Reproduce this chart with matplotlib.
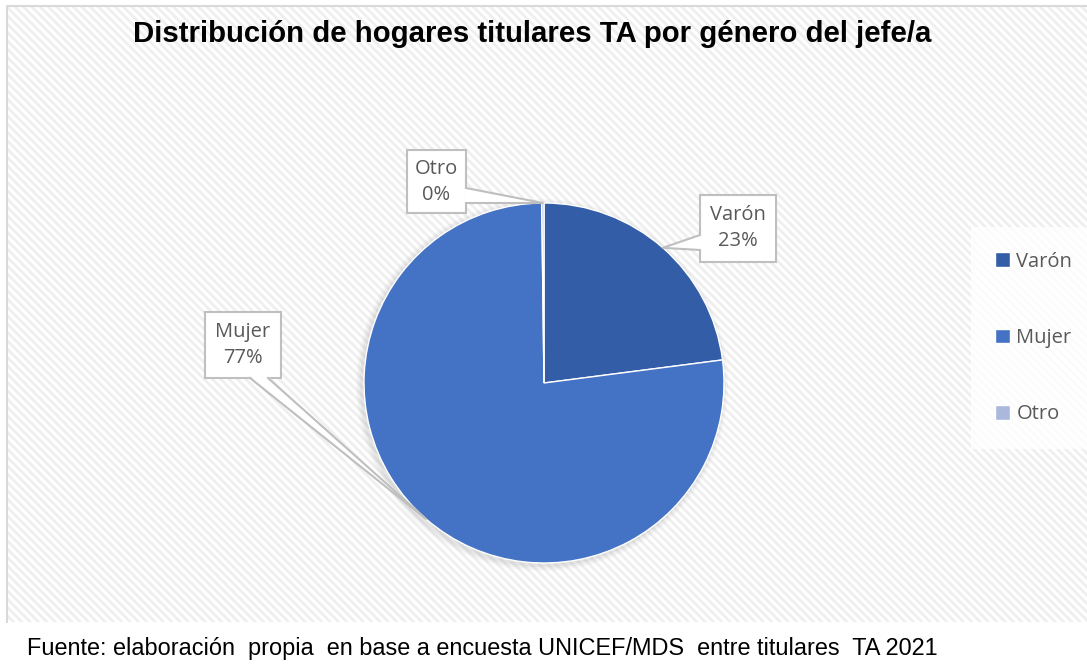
import numpy as np
import matplotlib.pyplot as plt
from matplotlib.patches import Rectangle, Polygon, Circle

plt.rcParams['hatch.linewidth'] = 2.0

# data
categorias = ["Varón", "Mujer", "Otro"]
valores = [23.0, 77.0, 0.2]
colores = ["#335DA6", "#4472C4", "#A9B8DC"]

titulo = "Distribución de hogares titulares TA por género del jefe/a"
fuente = "Fuente: elaboración  propia  en base a encuesta UNICEF/MDS  entre titulares  TA 2021"

W, H = 1087, 664
fig = plt.figure(figsize=(W / 100, H / 100), dpi=100)
ax = fig.add_axes([0, 0, 1, 1])

# chart area with striped background
bg = Rectangle((7, 42), W, H - 6 - 42, facecolor="white", edgecolor="#EFEFEF",
               hatch="\\\\\\\\", linewidth=0, zorder=0)
ax.add_patch(bg)
ax.plot([7, 7, W], [42, H - 6, H - 6], color="#D9D9D9", lw=1.5, zorder=1)

cx, cy, R = 544, H - 383, 180

# soft shadow
for k, a in zip([6, 4, 2], [0.05, 0.07, 0.09]):
    ax.add_patch(Circle((cx - 2, cy - 2), R + k, color="#808080", alpha=a, lw=0, zorder=1))

wedges, _ = ax.pie(valores, colors=colores, startangle=90, counterclock=False,
                   center=(cx, cy), radius=R, frame=True,
                   wedgeprops=dict(edgecolor="white", linewidth=1))
for w in wedges:
    w.set_zorder(2)

ax.set_xlim(0, W)
ax.set_ylim(0, H)
ax.axis("off")

total = sum(valores)
# callout boxes (x0, y0 top-left in px, width, height) and base of leader
cajas = {
    "Varón": ((700, 195, 76, 67), "left"),
    "Mujer": ((205, 312, 76, 66), "bottom"),
    "Otro": ((407, 150, 59, 63), "right"),
}
gris = "#BFBFBF"
fuente_lbl = "Open Sans"
for w, cat, v in zip(wedges, categorias, valores):
    ang = np.deg2rad((w.theta1 + w.theta2) / 2)
    tip = (cx + R * np.cos(ang), cy + R * np.sin(ang))
    (bx, by, bw, bh), lado = cajas[cat]
    y0 = H - by - bh
    ax.add_patch(Rectangle((bx, y0), bw, bh, facecolor="white", edgecolor=gris,
                           lw=1.5, zorder=4))
    if lado == "left":
        b1, b2 = (bx, y0 + 12), (bx, y0 + 27)
        ins = (1.5, 0)
    elif lado == "right":
        b1, b2 = (bx + bw, y0 + 10), (bx + bw, y0 + 25)
        ins = (-1.5, 0)
    else:
        b1, b2 = (bx + 45, y0), (bx + 63, y0)
        ins = (0, 1.5)
    poly = Polygon([(b1[0] + ins[0], b1[1] + ins[1]), tip, (b2[0] + ins[0], b2[1] + ins[1])],
                   closed=True, facecolor="white", edgecolor="none", zorder=5)
    ax.add_patch(poly)
    ax.plot([b1[0], tip[0], b2[0]], [b1[1], tip[1], b2[1]], color=gris, lw=1.5, zorder=6)
    pct = round(v / total * 100)
    ax.text(bx + bw / 2, y0 + bh / 2, f"{cat}\n{pct}%", ha="center", va="center",
            fontsize=14.5, color="#595959", family=fuente_lbl, linespacing=1.4, zorder=7)

leg = ax.legend(wedges, categorias, loc="center left", bbox_to_anchor=(971 / W, 1 - 338 / H),
                frameon=True, fancybox=False, fontsize=14.5, labelspacing=2.8,
                handlelength=0.75, handleheight=0.75, handletextpad=0.3,
                borderpad=1.2, borderaxespad=0)
leg.get_frame().set_facecolor("white")
leg.get_frame().set_edgecolor("none")
for t in leg.get_texts():
    t.set_color("#595959")
    t.set_family(fuente_lbl)

fig.text(532 / W, 1 - 34 / H, titulo, ha="center", va="center", fontsize=21.2,
         fontweight="bold", family="Liberation Sans", color="black")
fig.text(27 / W, 1 - 649 / H, fuente, ha="left", va="center", fontsize=16.9,
         family="Liberation Sans", color="black")

fig.savefig("out.png", dpi=100)
